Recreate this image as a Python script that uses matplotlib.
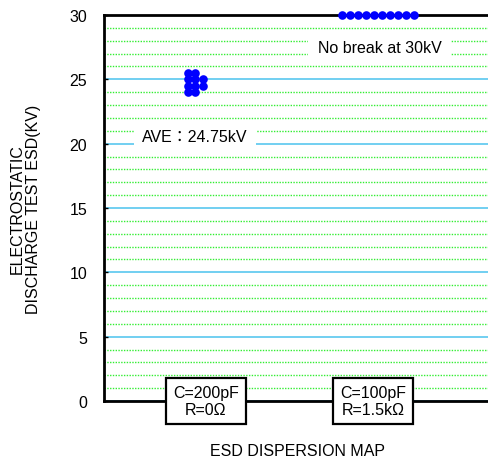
import matplotlib
matplotlib.use("Agg")
import matplotlib.pyplot as plt
from matplotlib.ticker import MultipleLocator
import matplotlib.transforms as mtransforms

plt.rcParams['font.family'] = ['Liberation Sans', 'Noto Sans CJK JP', 'DejaVu Sans']

# ---- data ----
categories = ["C=200pF\nR=0\u03a9", "C=100pF\nR=1.5k\u03a9"]
cat_pos = [0, 1]
# Condition 1 (C=200pF, R=0Ω): breakdown voltages, horizontal offsets of the dispersion columns
esd1_values = [25.5, 25.0, 24.5, 24.0, 25.5, 25.0, 24.5, 24.0, 25.0, 24.5]
esd1_xoff = [-0.106, -0.106, -0.106, -0.106, -0.063, -0.063, -0.063, -0.063, -0.018, -0.018]
# Condition 2 (C=100pF, R=1.5kΩ): no break at 30kV
esd2_values = [30, 30, 30, 30, 30, 30, 30, 30, 30, 30]
esd2_xoff = [-0.187, -0.139, -0.091, -0.043, 0.005, 0.053, 0.101, 0.149, 0.197, 0.245]
y_ticks = [0, 5, 10, 15, 20, 25, 30]
ave_label = "AVE\uff1a24.75kV"
nobreak_label = "No break at 30kV"
ylabel = "ELECTROSTATIC\nDISCHARGE TEST ESD(KV)"
xlabel = "ESD DISPERSION MAP"

FS = 11.5

fig = plt.figure(figsize=(4.89, 4.64), dpi=100)
ax = fig.add_axes([104/489, 62/464, 0.80, 386/464])
ax.set_xlim(-0.61, 1.73)
ax.set_ylim(0, 30)

# grid
ax.yaxis.set_major_locator(MultipleLocator(5))
ax.yaxis.set_minor_locator(MultipleLocator(1))
ax.set_yticks(y_ticks)
ax.grid(which='minor', axis='y', color='#33ee33', linestyle=(0, (1, 1)), linewidth=1.0, zorder=0)
ax.grid(which='major', axis='y', color='#66ccf0', linestyle='-', linewidth=1.3, zorder=0)
ax.set_axisbelow(True)

ax.tick_params(axis='y', which='major', direction='in', length=3, width=1, pad=12, labelsize=FS)
ax.tick_params(axis='y', which='minor', length=0)
ax.tick_params(axis='x', which='both', length=0, labelbottom=False)

for s in ['left', 'bottom', 'top']:
    ax.spines[s].set_linewidth(2)
    ax.spines[s].set_color('black')
ax.spines['right'].set_visible(False)

# data points
x1 = [cat_pos[0] + o for o in esd1_xoff]
x2 = [cat_pos[1] + o for o in esd2_xoff]
ax.plot(x1, esd1_values, 'o', color='#0000ff', markersize=6.2, markeredgewidth=0, zorder=5, clip_on=False)
ax.plot(x2, esd2_values, 'o', color='#0000ff', markersize=6.2, markeredgewidth=0, zorder=5, clip_on=False)

# annotations
ax.text(1.04, 27.45, nobreak_label, fontsize=FS, ha='center', va='center', zorder=4,
        bbox=dict(boxstyle='square,pad=0.6', facecolor='white', edgecolor='none'))
ax.text(-0.066, 20.55, ave_label, fontsize=FS, ha='center', va='center', zorder=4,
        bbox=dict(boxstyle='square,pad=0.5', facecolor='white', edgecolor='none'))

# category label boxes
trans = mtransforms.blended_transform_factory(ax.transData, ax.transAxes)
for xp, lab in zip(cat_pos, categories):
    ax.text(xp, 0.0, lab, transform=trans, fontsize=FS, ha='center', va='center',
            linespacing=1.15, zorder=6, clip_on=False,
            bbox=dict(boxstyle='square,pad=0.42', facecolor='white', edgecolor='black', linewidth=1.6))

ax.set_ylabel(ylabel, fontsize=FS, linespacing=1.1)
ax.yaxis.set_label_coords(-0.161, 0.5)
ax.set_xlabel(xlabel, fontsize=FS)
ax.xaxis.set_label_coords((298 - 104) / 391.2, -0.108)

fig.savefig("out.png", dpi=100)
